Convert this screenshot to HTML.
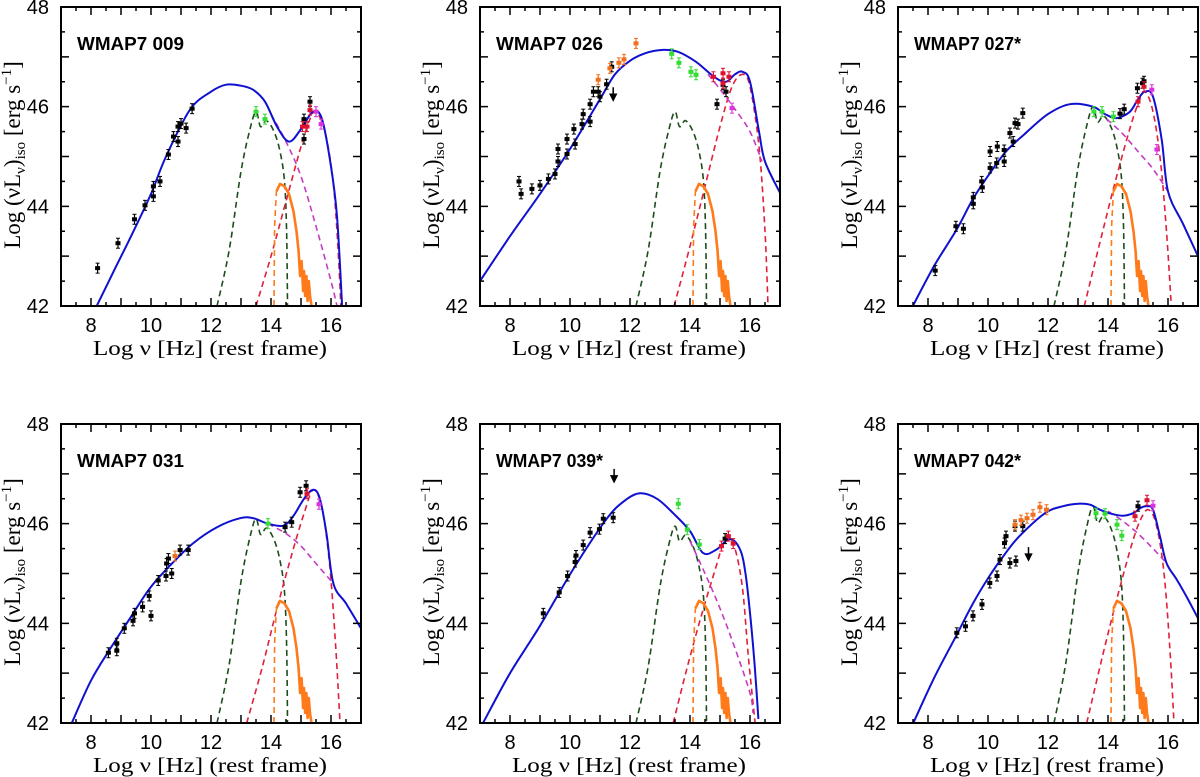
<!DOCTYPE html>
<html><head><meta charset="utf-8">
<style>
html,body{margin:0;padding:0;background:#fff;}
svg{display:block;}
text{font-family:"Liberation Sans","DejaVu Sans",sans-serif;fill:#000;}
.ser{font-family:"Liberation Serif","DejaVu Serif",serif;}
</style></head>
<body>
<svg id="chart" width="1200" height="777" viewBox="0 0 1200 777" xmlns="http://www.w3.org/2000/svg"></svg>
<script>
// ---- shared templates ----
const xTicks = [8, 10, 12, 14, 16];
const yTicks = [42, 44, 46, 48];
const greenX = [12.2,12.6,13.0,13.3,13.5,13.65,13.85,14.1,14.3,14.45,14.52,14.55];
const greenY = [42,43.1,44.7,45.55,45.9,45.6,45.72,45.5,45.1,44.5,43.5,42];
const orangeX = [14.1,14.12,14.18,14.3,14.45,14.6,14.75,14.85,14.92,14.97,15.02,15.07,15.1,15.14,15.18,15.22,15.26,15.3,15.35];
const orangeY = [42,43.6,44.3,44.45,44.4,44.25,43.9,43.5,43.1,42.6,42.9,42.3,42.7,42.2,42.6,42.1,42.5,42.2,42];
const panelNames = ["WMAP7 009","WMAP7 026","WMAP7 027*","WMAP7 031","WMAP7 039*","WMAP7 042*"];
const greenShift = [0, 0, 0.1, 0.2, 0.05, 0.45];

// ---- panel 1: 009 ----
const p1BlueX = [8.19,8.8,9.4,10,10.5,11.3,12,12.5,13,13.4,13.8,14.2,14.6,15,15.4,15.7,16,16.2,16.37];
const p1BlueY = [42,42.75,43.48,44.25,45.0,45.94,46.3,46.44,46.42,46.34,46.1,45.6,45.3,45.55,45.9,45.75,44.8,43.8,42];
const p1RedX = [13.5,14.0,14.5,15.0,15.3,15.5,15.8,16.05,16.2,16.33];
const p1RedY = [42,43.0,44.1,45.2,45.75,45.9,45.5,44.6,43.5,42];
const p1MagX = [14.0,14.5,15.0,15.5,16.0,16.2];
const p1MagY = [45.85,45.3,44.6,43.6,42.5,42.0];
const p1DataX = [8.22,8.9,9.45,9.8,10.08,10.08,10.3,10.58,10.75,10.9,10.9,11.0,11.17,11.37,15.1,15.3,15.1];
const p1DataY = [42.76,43.26,43.74,44.02,44.4,44.2,44.5,45.04,45.4,45.3,45.6,45.66,45.57,45.96,45.35,46.1,45.75];
const p1GreenPtX = [13.5,13.8], p1GreenPtY = [45.9,45.75];
const p1RedPtX = [15.05,15.2,15.3], p1RedPtY = [45.6,45.6,45.93];
const p1MagPtX = [15.5,15.67], p1MagPtY = [45.9,45.65];
const p1OrPtX = [], p1OrPtY = [];

// ---- panel 2: 026 ----
const p2BlueX = [7,8,9,10,11,11.5,12,12.5,13.1,13.6,14.2,14.8,15.2,15.5,15.75,16.0,16.3,16.5,17];
const p2BlueY = [42.5,43.4,44.25,45.15,46.15,46.65,46.92,47.07,47.14,47.1,46.9,46.6,46.5,46.65,46.7,46.5,45.5,44.9,44.27];
const p2RedX = [13.47,14,14.5,15,15.4,15.75,16.0,16.3,16.5,16.6];
const p2RedY = [42,43.2,44.4,45.6,46.4,46.65,46.4,45.2,43.5,42];
const p2MagX = [14.6,15.0,15.5,16.0,16.4];
const p2MagY = [46.65,46.35,45.95,45.5,44.9];
const p2DataX = [8.3,8.37,8.73,9.0,9.28,9.5,9.6,9.6,9.9,9.9,10.13,10.17,10.4,10.44,10.67,10.67,10.78,10.94,11.0,11.22,11.39,14.9,15.1,15.2];
const p2DataY = [44.5,44.25,44.35,44.42,44.55,44.65,44.9,45.15,45.05,45.35,45.55,45.25,45.65,45.85,45.7,46.05,46.3,46.3,46.2,46.45,46.8,46.05,46.44,46.3];
const p2GreenPtX = [13.39,13.63,14.03,14.2], p2GreenPtY = [47.06,46.88,46.7,46.64];
const p2RedPtX = [14.78,15.1,15.1,15.3], p2RedPtY = [46.6,46.67,46.47,46.6];
const p2MagPtX = [15.4], p2MagPtY = [45.97];
const p2OrPtX = [10.94,11.33,11.63,11.8,12.2], p2OrPtY = [46.54,46.77,46.88,46.95,47.27];

// ---- panel 3: 027* ----
const p3BlueX = [7.51,8.2,8.96,9.5,10.07,10.6,11.2,12.0,12.73,13.5,13.9,14.29,14.73,15.0,15.23,15.5,15.79,16.0,16.5,17];
const p3BlueY = [42.02,42.8,43.54,44.15,44.67,45.1,45.44,45.85,46.05,46.0,45.85,45.77,45.9,46.15,46.3,46.2,45.34,44.3,43.65,43.0];
const p3RedX = [13.21,13.7,14.2,14.7,15.0,15.23,15.5,15.75,15.95,16.11];
const p3RedY = [42,43.2,44.4,45.5,46.05,46.3,45.9,44.9,43.5,42];
const p3MagX = [13.96,14.5,15.0,15.5,16.0];
const p3MagY = [45.75,45.45,45.1,44.75,44.3];
const p3DataX = [8.24,8.93,9.18,9.51,9.51,9.81,9.79,10.07,10.07,10.29,10.31,10.54,10.54,10.73,10.84,10.9,11.0,11.16,14.4,14.54,14.98,15.15,15.2];
const p3DataY = [42.71,43.6,43.55,44.18,44.05,44.38,44.5,45.1,44.77,44.87,45.2,45.13,44.9,45.47,45.3,45.67,45.65,45.87,45.86,45.95,46.37,46.47,46.51];
const p3GreenPtX = [13.53,13.8,14.18], p3GreenPtY = [45.9,45.9,45.8];
const p3RedPtX = [15.0,15.2], p3RedPtY = [46.1,46.4];
const p3MagPtX = [15.46,15.63], p3MagPtY = [46.34,45.14];
const p3OrPtX = [], p3OrPtY = [];

// ---- panel 4: 031 ----
const p4BlueX = [7.36,8,8.63,9.3,9.97,10.7,11.41,12.2,12.97,13.41,13.9,14.41,14.74,15.1,15.41,15.63,15.85,16.08,16.5,17];
const p4BlueY = [42,42.85,43.48,44.1,44.71,45.2,45.61,45.93,46.11,46.11,46.0,45.96,46.15,46.5,46.68,46.5,45.8,44.8,44.4,43.9];
const p4RedX = [13.19,13.7,14.2,14.7,15.1,15.41,15.7,15.95,16.15,16.3];
const p4RedY = [42,43.1,44.3,45.4,46.2,46.68,46.3,45.2,43.6,42];
const p4MagX = [13.9,14.5,15.0,15.5,16.08];
const p4MagY = [46.0,45.8,45.55,45.2,44.8];
const p4DataX = [8.58,8.86,8.86,9.11,9.4,9.45,9.72,9.94,10.0,10.24,10.52,10.5,10.69,10.58,10.97,11.24,14.47,14.69,14.97,15.17];
const p4DataY = [43.41,43.6,43.45,43.9,44.05,44.2,44.33,44.55,44.15,44.86,45.2,44.95,45.0,45.3,45.47,45.47,45.93,46.03,46.63,46.76];
const p4GreenPtX = [13.9], p4GreenPtY = [46.0];
const p4RedPtX = [15.2], p4RedPtY = [46.6];
const p4MagPtX = [15.6], p4MagPtY = [46.39];
const p4OrPtX = [10.8], p4OrPtY = [45.35];

// ---- panel 5: 039* ----
const p5BlueX = [7.11,8,9,10.1,11.2,11.8,12.33,12.9,13.44,14.0,14.44,14.88,15.33,15.67,15.85,16.0,16.15,16.28];
const p5BlueY = [42.01,43.0,43.95,45.08,46.08,46.45,46.61,46.5,46.21,45.85,45.41,45.48,45.69,45.48,45.0,44.21,43.2,42.08];
const p5RedX = [13.44,13.9,14.4,14.9,15.1,15.28,15.5,15.75,15.95,16.17];
const p5RedY = [42,43.1,44.2,45.2,45.6,45.73,45.5,44.7,43.3,42];
const p5MagX = [14.0,14.5,15.0,15.5,16.0,16.1];
const p5MagY = [45.65,45.0,44.3,43.5,42.6,42.2];
const p5DataX = [9.11,9.64,9.92,10.17,10.2,10.44,10.67,10.98,11.11,11.44,15.17];
const p5DataY = [44.2,44.62,44.95,45.23,45.36,45.57,45.82,45.89,46.1,46.12,45.7];
const p5GreenPtX = [13.61,13.91,14.31], p5GreenPtY = [46.4,45.88,45.58];
const p5RedPtX = [15.05,15.28,15.44], p5RedPtY = [45.55,45.75,45.6];
const p5MagPtX = [], p5MagPtY = [];
const p5OrPtX = [], p5OrPtY = [];

// ---- panel 6: 042* ----
const p6BlueX = [7.51,8.2,8.94,9.5,10.05,10.55,11.05,11.9,12.5,13.0,13.4,13.73,14.1,14.5,14.84,15.1,15.3,15.5,15.73,15.95,16.29,16.65,17];
const p6BlueY = [42,42.9,43.75,44.4,44.95,45.38,45.75,46.21,46.35,46.4,46.38,46.28,46.2,46.16,46.21,46.32,46.35,46.28,45.75,45.21,44.88,44.5,44.1];
const p6RedX = [13.29,13.8,14.3,14.8,15.1,15.35,15.6,15.85,16.05,16.2];
const p6RedY = [42,43.3,44.5,45.6,46.1,46.28,46.0,45.1,43.6,42];
const p6MagX = [14.0,14.5,15.0,15.5,15.95];
const p6MagY = [46.25,46.05,45.8,45.5,45.21];
const p6DataX = [8.96,9.25,9.5,9.8,10.06,10.3,10.4,10.55,10.6,10.73,10.93,10.9,11.16,15.0];
const p6DataY = [43.81,43.94,44.15,44.38,44.81,44.95,45.28,45.61,45.75,45.21,45.25,45.95,45.95,46.35];
const p6GreenPtX = [13.6,13.9,14.3,14.46], p6GreenPtY = [46.21,46.2,45.98,45.76];
const p6RedPtX = [14.9,15.3], p6RedPtY = [46.15,46.47];
const p6MagPtX = [15.5], p6MagPtY = [46.36];
const p6OrPtX = [10.9,11.1,11.3,11.5,11.73,11.95], p6OrPtY = [45.98,46.07,46.11,46.18,46.33,46.28];

// upper-limit arrows
const arrowPanel = [1, 4, 5];
const arrowX = [11.44, 11.47, 11.35];
const arrowY = [46.27, 46.98, 45.41];

const panels = [
 {blueX:p1BlueX,blueY:p1BlueY,redX:p1RedX,redY:p1RedY,magX:p1MagX,magY:p1MagY,dX:p1DataX,dY:p1DataY,gX:p1GreenPtX,gY:p1GreenPtY,rX:p1RedPtX,rY:p1RedPtY,mX:p1MagPtX,mY:p1MagPtY,oX:p1OrPtX,oY:p1OrPtY},
 {blueX:p2BlueX,blueY:p2BlueY,redX:p2RedX,redY:p2RedY,magX:p2MagX,magY:p2MagY,dX:p2DataX,dY:p2DataY,gX:p2GreenPtX,gY:p2GreenPtY,rX:p2RedPtX,rY:p2RedPtY,mX:p2MagPtX,mY:p2MagPtY,oX:p2OrPtX,oY:p2OrPtY},
 {blueX:p3BlueX,blueY:p3BlueY,redX:p3RedX,redY:p3RedY,magX:p3MagX,magY:p3MagY,dX:p3DataX,dY:p3DataY,gX:p3GreenPtX,gY:p3GreenPtY,rX:p3RedPtX,rY:p3RedPtY,mX:p3MagPtX,mY:p3MagPtY,oX:p3OrPtX,oY:p3OrPtY},
 {blueX:p4BlueX,blueY:p4BlueY,redX:p4RedX,redY:p4RedY,magX:p4MagX,magY:p4MagY,dX:p4DataX,dY:p4DataY,gX:p4GreenPtX,gY:p4GreenPtY,rX:p4RedPtX,rY:p4RedPtY,mX:p4MagPtX,mY:p4MagPtY,oX:p4OrPtX,oY:p4OrPtY},
 {blueX:p5BlueX,blueY:p5BlueY,redX:p5RedX,redY:p5RedY,magX:p5MagX,magY:p5MagY,dX:p5DataX,dY:p5DataY,gX:p5GreenPtX,gY:p5GreenPtY,rX:p5RedPtX,rY:p5RedPtY,mX:p5MagPtX,mY:p5MagPtY,oX:p5OrPtX,oY:p5OrPtY},
 {blueX:p6BlueX,blueY:p6BlueY,redX:p6RedX,redY:p6RedY,magX:p6MagX,magY:p6MagY,dX:p6DataX,dY:p6DataY,gX:p6GreenPtX,gY:p6GreenPtY,rX:p6RedPtX,rY:p6RedPtY,mX:p6MagPtX,mY:p6MagPtY,oX:p6OrPtX,oY:p6OrPtY}
];

// ---- layout ----
const NS = "http://www.w3.org/2000/svg";
const svg = document.getElementById('chart');
const lefts = [61, 480, 898];
const tops = [7, 424];
const PW = 300, PH = 299, XMIN = 7, XMAX = 17, YMIN = 42, YMAX = 48;

function mk(tag, attrs, parent) {
  const e = document.createElementNS(NS, tag);
  for (const k in attrs) e.setAttribute(k, attrs[k]);
  parent.appendChild(e);
  return e;
}

panels.forEach((p, i) => {
  const L = lefts[i % 3], T = tops[Math.floor(i / 3)];
  const sx = v => L + (v - XMIN) / (XMAX - XMIN) * PW;
  const sy = v => T + (YMAX - v) / (YMAX - YMIN) * PH;
  const g = mk('g', {}, svg);
  
  
  const clipId = 'clip' + i;
  const cp = mk('clipPath', {id: clipId}, g);
  mk('rect', {x: L, y: T, width: PW, height: PH}, cp);
  const plot = mk('g', {'clip-path': 'url(#' + clipId + ')'}, g);

  const linePath = (pts) => pts.map((q, k) => (k ? 'L' : 'M') + q[0].toFixed(1) + ',' + q[1].toFixed(1)).join(' ');
  const smoothPath = (pts) => {
    let d = 'M' + pts[0][0].toFixed(1) + ',' + pts[0][1].toFixed(1);
    for (let k = 0; k < pts.length - 1; k++) {
      const p0 = pts[Math.max(k - 1, 0)], p1 = pts[k], p2 = pts[k + 1], p3 = pts[Math.min(k + 2, pts.length - 1)];
      const c1 = [p1[0] + (p2[0] - p0[0]) / 6, p1[1] + (p2[1] - p0[1]) / 6];
      const c2 = [p2[0] - (p3[0] - p1[0]) / 6, p2[1] - (p3[1] - p1[1]) / 6];
      d += ` C${c1[0].toFixed(1)},${c1[1].toFixed(1)} ${c2[0].toFixed(1)},${c2[1].toFixed(1)} ${p2[0].toFixed(1)},${p2[1].toFixed(1)}`;
    }
    return d;
  };
  function curve(xs, ys, color, w, dash, name, smooth, yf) {
    const pts = xs.map((x, k) => [sx(x), sy(yf ? yf(ys[k]) : ys[k])]);
    const e = mk('path', {d: smooth ? smoothPath(pts) : linePath(pts), fill: 'none', stroke: color, 'stroke-width': w, 'stroke-linejoin': 'round'}, plot);
    if (dash) e.setAttribute('stroke-dasharray', dash);
    
    
  }
  const gs = greenShift[i];
  curve(greenX, greenY, '#1d4d1d', 1.6, '6 4', 'torus-component', true, y => 42 + (y - 42) * (1 + gs / 3.9));
  curve(p.redX, p.redY, '#e0203a', 1.6, '6 4', 'disk-component', true);
  curve(p.magX, p.magY, '#c43cc4', 1.6, '6 4', 'synchrotron-tail', true);
  curve(orangeX.slice(0, 3), orangeY.slice(0, 3), '#ff7a1a', 1.6, '6 4', 'host-template-rise', false);
  curve(orangeX.slice(2), orangeY.slice(2), '#ff7a1a', 2.6, null, 'host-template', false);
  curve(p.blueX, p.blueY, '#1010d0', 2, null, 'total-model', true);

  function points(xs, ys, color, name) {
    xs.forEach((x, k) => {
      const cx = sx(x), cy = sy(ys[k]);
      const pg = mk('g', {}, plot);
      
      
      mk('line', {x1: cx, x2: cx, y1: cy - 5, y2: cy + 5, stroke: color, 'stroke-width': 1.2}, pg);
      mk('line', {x1: cx - 2, x2: cx + 2, y1: cy - 5, y2: cy - 5, stroke: color, 'stroke-width': 1}, pg);
      mk('line', {x1: cx - 2, x2: cx + 2, y1: cy + 5, y2: cy + 5, stroke: color, 'stroke-width': 1}, pg);
      mk('rect', {x: cx - 2.5, y: cy - 2, width: 5, height: 4, fill: color}, pg);
    });
  }
  points(p.dX, p.dY, '#000', 'data-point');
  points(p.oX, p.oY, '#f07020', 'orange-data-point');
  points(p.gX, p.gY, '#33dd33', 'green-data-point');
  points(p.rX, p.rY, '#dd1030', 'red-data-point');
  points(p.mX, p.mY, '#dd33dd', 'magenta-data-point');

  arrowPanel.forEach((ap, k) => {
    if (ap !== i) return;
    const cx = sx(arrowX[k]), cy = sy(arrowY[k]);
    const a = mk('path', {d: `M${cx},${cy - 6} L${cx},${cy + 4} M${cx - 3},${cy + 1} L${cx},${cy + 7} L${cx + 3},${cy + 1} Z`, stroke: '#000', 'stroke-width': 1.5, fill: '#000'}, plot);
    
    
  });

  const fr = mk('rect', {x: L, y: T, width: PW, height: PH, fill: 'none', stroke: '#000', 'stroke-width': 2}, g);
  
  
  let td = '';
  for (let v = 7; v <= 17.001; v += 0.5) {
    const x = sx(v), len = Math.abs(v - Math.round(v)) < 0.01 ? 8 : 4;
    td += `M${x},${T + PH} v${-len} M${x},${T} v${len} `;
  }
  for (let v = 42; v <= 48.001; v += 0.5) {
    const y = sy(v), len = Math.abs(v - Math.round(v)) < 0.01 ? 8 : 4;
    td += `M${L},${y} h${len} M${L + PW},${y} h${-len} `;
  }
  const tk = mk('path', {d: td, stroke: '#000', 'stroke-width': 1.5, fill: 'none'}, g);
  
  

  xTicks.forEach(v => {
    const t = mk('text', {x: sx(v), y: T + PH + 26, 'text-anchor': 'middle', 'font-size': 20}, g);
    t.textContent = v;
    
    
  });
  yTicks.forEach(v => {
    const t = mk('text', {x: L - 12, y: sy(v) + 7, 'text-anchor': 'end', 'font-size': 20}, g);
    t.textContent = v;
    
    
  });
  const xt = mk('text', {x: L + 149, y: T + PH + 49, 'text-anchor': 'middle', 'font-size': 21, class: 'ser', textLength: 234, lengthAdjust: 'spacingAndGlyphs'}, g);
  xt.textContent = 'Log \u03BD [Hz] (rest frame)';
  
  

  const yt = mk('text', {transform: `translate(${L - 41},${T + 148}) rotate(-90)`, 'text-anchor': 'middle', 'font-size': 23, class: 'ser'}, g);
  yt.innerHTML = 'Log (\u03BDL<tspan font-size="15" dy="5">\u03BD</tspan><tspan dy="-5">)</tspan><tspan font-size="15" dy="5">iso</tspan><tspan dy="-5"> [erg s</tspan><tspan font-size="15" dy="-9">\u22121</tspan><tspan dy="9">]</tspan>';
  
  

  const nt = mk('text', {x: L + 16, y: T + 43, 'font-size': 18, 'font-weight': 'bold', textLength: 107, lengthAdjust: 'spacingAndGlyphs'}, g);
  nt.textContent = panelNames[i];
  
  
});
</script>
</body></html>
